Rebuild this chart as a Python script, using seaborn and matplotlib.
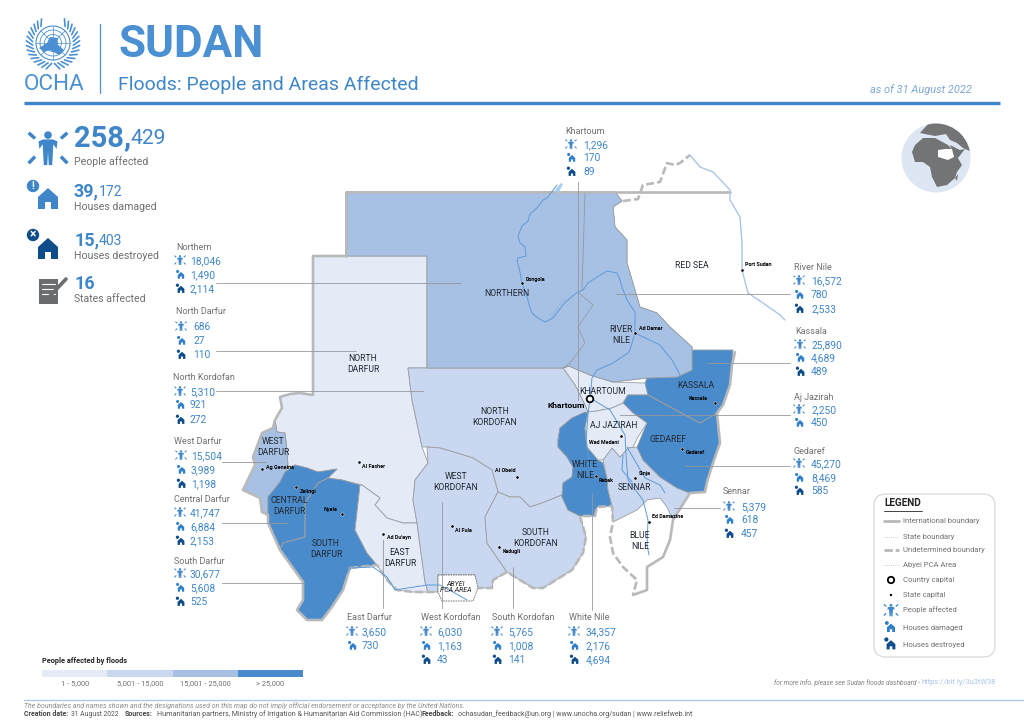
import numpy as np
import pandas as pd
import seaborn as sns
import matplotlib
matplotlib.use("Agg")
import matplotlib.pyplot as plt
from matplotlib.colors import ListedColormap
from matplotlib.patches import Circle, Polygon, Rectangle, FancyBboxPatch

# callout data
states = ["Khartoum", "Northern", "North Darfur", "North Kordofan", "West Darfur",
          "Central Darfur", "South Darfur", "East Darfur", "West Kordofan",
          "South Kordofan", "White Nile", "Sennar", "Gedaref", "Aj Jazirah",
          "Kassala", "River Nile"]
people = [1296, 18046, 686, 5310, 15504, 41747, 30677, 3650, 6030, 5765, 34357, 5379, 45270, 2250, 25890, 16572]
damaged = [170, 1490, 27, 921, 3989, 6884, 5608, 730, 1163, 1008, 2176, 618, 8469, 450, 4689, 780]
destroyed = [89, 2114, 110, 272, 1198, 2153, 525, None, 43, 141, 4694, 457, 585, None, 489, 2533]

scale_labels = ["1 - 5,000", "5,001 - 15,000", "15,001 - 25,000", "> 25,000"]
scale_colors = ["#e4ebf7", "#c9d8f0", "#a7c1e5", "#4a8bcb"]
scale_bins = [5001, 15001, 25001]

# map outlines
northern = [(346,192),(615,192),(622,201),(613,207),(615,227),(627,240),(627,263),(640,307),(657,313),(670,327),(692,347),
            (692,370),(677,377),(647,378),(613,382),(590,375),(569,366),(563,368),(427,368),(427,256),(346,256)]
north_darfur = [(313,256),(427,256),(427,368),(408,368),(412,400),(422,447),(428,463),(415,480),(413,500),(417,523),(403,523),
                (387,518),(375,505),(380,498),(373,493),(362,485),(342,480),(328,478),(337,469),(318,472),(307,468),(295,465),
                (288,467),(287,450),(285,433),(277,432),(275,420),(282,408),(280,397),(290,394),(300,393),(313,395)]
north_kordofan = [(408,368),(563,368),(575,385),(585,405),(588,412),(572,418),(560,428),(558,440),(558,447),(567,457),(573,467),
                  (572,477),(563,483),(562,495),(542,503),(530,507),(520,497),(510,497),(498,492),(492,470),(473,458),(457,453),
                  (440,448),(427,447),(422,447),(412,400)]
west_darfur = [(275,420),(273,428),(262,433),(253,457),(255,465),(243,490),(260,498),(262,512),(268,515),(268,497),(280,482),
               (288,467),(287,450),(285,433),(277,432)]
central_darfur = [(285,472),(295,465),(307,468),(318,472),(337,469),(328,478),(318,483),(305,503),(305,537),(283,543),(280,550),
                  (268,523),(268,497),(280,482)]
south_darfur = [(328,478),(342,480),(360,485),(358,503),(355,530),(367,553),(377,565),(350,568),(343,590),(332,607),(322,620),
                (307,620),(297,610),(303,600),(303,582),(280,550),(283,543),(305,537),(305,503),(318,483)]
east_darfur = [(362,485),(373,493),(380,498),(375,505),(387,518),(403,523),(417,523),(425,582),(428,592),(413,592),(397,590),
               (387,580),(377,565),(367,553),(355,530),(358,503),(360,485)]
west_kordofan = [(427,447),(440,448),(457,453),(473,458),(492,470),(498,492),(485,517),(487,543),(507,572),(493,580),(492,588),
                 (475,588),(475,575),(438,575),(438,592),(428,592),(425,582),(417,523),(413,500),(415,480),(428,463)]
south_kordofan = [(498,492),(510,497),(520,497),(530,507),(542,503),(562,495),(562,497),(568,510),(580,516),(586,537),(583,553),
                  (572,570),(543,588),(533,588),(507,572),(487,543),(485,517)]
khartoum = [(563,368),(569,366),(590,375),(613,382),(645,383),(648,395),(628,395),(623,403),(612,408),(597,411),(588,412),(585,405),(575,385)]
aj_jazirah = [(588,412),(597,411),(612,408),(623,403),(633,413),(647,423),(638,437),(633,447),(628,448),(620,457),(612,448),
              (603,460),(598,460),(587,447),(585,428)]
white_nile = [(585,412),(590,413),(585,428),(587,447),(598,460),(603,463),(607,478),(608,490),(612,506),(597,507),(595,516),
              (580,516),(568,510),(562,497),(563,483),(572,477),(573,467),(567,457),(558,447),(558,440),(560,428),(572,418)]
sennar = [(603,460),(612,448),(620,457),(628,448),(637,447),(643,460),(660,477),(677,488),(690,493),(673,520),(667,507),(660,498),
          (647,500),(637,510),(613,522),(612,506),(608,490),(607,478)]
kassala = [(692,350),(733,350),(732,365),(730,385),(723,405),(717,413),(700,423),(648,395),(645,383),(647,378),(677,377),(692,370)]
gedaref = [(628,395),(648,395),(700,423),(717,413),(720,443),(713,463),(707,482),(705,492),(690,493),(677,488),(660,477),(643,460),
           (637,447),(647,423),(633,413),(623,403)]
red_sea = [(623,201),(638,199),(643,185),(660,182),(667,163),(675,165),(680,163),(690,155),(700,167),(713,172),(730,190),(730,200),
           (740,217),(742,243),(742,270),(748,293),(763,303),(780,315),(785,320),(778,333),(760,340),(750,347),(735,352),(692,350),
           (670,327),(657,313),(640,307),(627,263),(627,240),(615,227),(613,207)]
blue_nile = [(613,522),(637,510),(647,500),(660,498),(667,507),(673,520),(670,540),(663,557),(647,567),(647,590),(633,595),(637,580),
             (623,567),(613,553),(610,537)]
abyei = [(438,575),(475,575),(478,588),(473,601),(442,601),(438,592)]

state_shapes = {"Khartoum": khartoum, "Northern": northern, "North Darfur": north_darfur, "North Kordofan": north_kordofan,
                "West Darfur": west_darfur, "Central Darfur": central_darfur, "South Darfur": south_darfur,
                "East Darfur": east_darfur, "West Kordofan": west_kordofan, "South Kordofan": south_kordofan,
                "White Nile": white_nile, "Sennar": sennar, "Gedaref": gedaref, "Aj Jazirah": aj_jazirah,
                "Kassala": kassala, "River Nile": northern}

# outer boundaries
border_solid = [[(346,256),(346,192),(730,192)], [(346,256),(313,256),(313,395),(300,393),(290,394),(280,397),(282,408),(275,420),
                 (273,428),(262,433),(253,457),(255,465),(243,490),(260,498),(262,512),(268,515),(268,523),(280,550),(303,582),
                 (303,600),(297,610),(307,620),(322,620),(332,607),(343,590),(350,568)],
                [(735,352),(732,365),(730,385),(723,405),(717,413),(720,443),(713,463),(707,482),(705,492),(690,493),(673,520),
                 (670,540),(663,557),(647,567),(647,590),(633,595)]]
border_dashed = [[(623,201),(638,199),(643,185),(660,182),(667,163),(675,165),(680,163),(690,155)],
                 [(350,568),(377,565),(387,580),(397,590),(413,592),(428,592),(438,592)],
                 [(475,588),(492,588),(493,580),(507,572),(533,588),(543,588),(572,570),(583,553),(586,537),(580,516),(595,516),(597,507),(612,506),(613,522),
                  (610,537),(613,553),(623,567),(637,580),(633,595)]]
inner_lines = [[(578,292),(593,305),(578,327),(585,343),(570,363),(563,368)], [(648,395),(700,423)], [(328,478),(318,483),(305,503),(305,537),(283,543),(280,550)]]
coast = [(690,155),(700,167),(713,172),(730,190),(730,200),(740,217),(742,243),(742,270),(748,293),(763,303),(780,315),(785,320)]

# rivers
main_nile = [(557,185),(547,198),(543,200),(538,207),(530,214),(528,221),(522,226),(518,236),(520,243),(525,247),(526,256),(518,258),
             (517,261),(520,272),(522,283),(528,300),(530,308),(532,313),(538,318),(545,322),(553,318),(563,305),(570,298),(578,292),
             (583,290),(588,283),(597,277),(607,271),(617,273),(620,280),(622,287),(627,300),(635,312),(635,333),(630,350),(628,353),
             (613,363),(597,370),(592,378),(590,398)]
atbara = [(635,333),(660,345),(672,360),(680,375)]
blue_river = [(590,398),(610,410),(625,435),(626,455),(628,480),(643,500),(648,520),(647,545),(649,555)]
white_river = [(590,398),(588,415),(586,440),(590,465),(598,478)]
dinder = [(627,447),(645,478),(660,485),(665,493)]
rahad = [(623,455),(622,470),(632,482)]
arab_river = [(347,573),(350,568),(373,567),(387,577),(395,590),(427,585),(440,585),(453,592),(467,600)]
river_lines = [main_nile, atbara, blue_river, white_river, dinder, rahad, arab_river]

# leader lines from the callouts
leaders = [[(578,182),(578,400)], [(585,193),(582,290)], [(216,283),(461,283)], [(216,351),(356,351)], [(216,391),(423,391)],
           [(222,462),(266,462)], [(222,523),(287,523)], [(222,583),(303,583)], [(383,540),(383,608)], [(442,502),(442,608)],
           [(513,567),(513,608)], [(592,493),(592,610)], [(674,508),(720,508)], [(685,466),(790,466)], [(620,415),(790,415)],
           [(707,363),(790,363)], [(616,294),(790,294)]]

# callout placing: name x, name y, value x, icon x, three value rows
callouts = [(565,131,583,571,145,158,172), (176,248,190,180,261,275,289), (176,311,193,181,327,341,355),
            (173,378,190,180,392,405,420), (174,442,191,181,456,470,484), (174,500,190,180,513,527,541),
            (174,561,190,180,574,588,602), (347,618,362,352,632,646,None), (421,618,437,426,632,646,660),
            (492,618,508,497,632,646,660), (569,618,586,574,632,646,660), (723,492,741,729,507,520,534),
            (794,451,811,799,464,478,491), (794,397,811,799,410,423,None), (795,331,811,800,345,358,372),
            (794,268,811,799,281,295,309)]

capital_names = ["Dongola","Port Sudan","Ad Damar","Kassala","Gedaref","Wad Medani","Sinja","Rabak","Ed Damazine","Al Obeid",
                 "Kadugli","Al Fula","Ad Du'ayn","Al Fasher","Nyala","Zalingi","Ag Geneina"]
capital_x = [522,742,635,715,682,621,635,596,649,517,499,452,383,359,342,296,262]
capital_y = [283,270,333,403,449,436,478,476,522,477,547,526,534,462,514,487,469]
capital_lx = [526,745,639,689,686,589,639,599,652,495,503,455,387,362,324,300,266]
capital_ly = [279,265,328,398,452,442,474,481,517,471,552,531,538,467,509,492,467]

map_labels = [("NORTHERN",507,294),("NORTH\nDARFUR",363,364),("RED SEA",692,265),("RIVER\nNILE",621,335),("KHARTOUM",603,391),
              ("AJ JAZIRAH",614,426),("KASSALA",696,386),("GEDAREF",668,439),("WHITE\nNILE",585,470),("SENNAR",634,487),
              ("BLUE\nNILE",640,541),("NORTH\nKORDOFAN",495,417),("WEST\nKORDOFAN",456,482),("SOUTH\nKORDOFAN",536,538),
              ("WEST\nDARFUR",273,447),("CENTRAL\nDARFUR",289,506),("SOUTH\nDARFUR",326,549),("EAST\nDARFUR",400,558)]

# small globe
globe_land = [[(912,152),(915,145),(923,138),(935,138),(948,145),(955,153),(962,165),(957,172),(955,178),(947,185),(937,187),
               (932,177),(930,167),(923,162),(915,162)],
              [(920,133),(930,122),(950,122),(965,135),(972,152),(963,148),(957,143),(950,140),(946,134),(935,136),(925,134)],
              [(950,145),(960,150),(965,149),(958,158),(953,153)],
              [(955,178),(958,174),(957,181)]]
globe_sudan = [(938,150),(945,149),(952,149),(954,157),(948,160),(938,157)]

sns.set_theme(style="white")
plt.rcParams["font.family"] = ["Roboto", "DejaVu Sans"]

BLUE = "#4a90d2"
VAL = "#3f86c9"
DARK = "#0f4c8c"
GREY = "#6f7072"
LINE = "#b8b9bb"

fig = plt.figure(figsize=(10.24, 7.24), dpi=100)
ax = fig.add_axes([0, 0, 1, 1])
ax.set_xlim(0, 1024)
ax.set_ylim(724, 0)
ax.axis("off")


def px(v):
    return v * 0.72


def line(pts, color=LINE, lw=1.0, ls="-", z=3):
    xs = [p[0] for p in pts]
    ys = [p[1] for p in pts]
    sns.lineplot(x=xs, y=ys, sort=False, estimator=None, color=color, linewidth=lw, linestyle=ls, zorder=z, ax=ax, legend=False)


def person(x, y, s, color=VAL):
    # y is the middle of the figure, s the half height
    ax.add_patch(Circle((x, y - s*0.68), s*0.2, color=color, zorder=6, lw=0))
    ax.add_patch(Polygon([(x-s*.5,y-s*.35),(x-s*.25,y-s*.45),(x+s*.25,y-s*.45),(x+s*.5,y-s*.35),(x+s*.45,y+s*.05),
                          (x+s*.28,y-s*.2),(x+s*.22,y+s*.9),(x+s*.04,y+s*.9),(x,y+s*.2),(x-s*.04,y+s*.9),(x-s*.22,y+s*.9),
                          (x-s*.28,y-s*.2),(x-s*.45,y+s*.05)], color=color, zorder=6, lw=0))
    for dx, dy in [(-1, -1), (1, -1), (-1, 1), (1, 1)]:
        ax.plot([x+dx*s*.68, x+dx*s*1.02], [y+dy*s*.45-s*.05*(dy<0), y+dy*s*.8], color=color, lw=s*.13, zorder=6, solid_capstyle="butt")


def house(x, y, s, color, dot=True):
    # x,y is the middle of the house, s the half width
    ax.add_patch(Polygon([(x-s,y-s*.2),(x,y-s*1.1),(x+s,y-s*.2),(x+s,y+s),(x+s*.3,y+s),(x+s*.3,y+s*.3),(x-s*.3,y+s*.3),
                          (x-s*.3,y+s),(x-s,y+s)], color=color, zorder=6, lw=0))
    if dot:
        ax.add_patch(Circle((x-s*1.05, y-s*1.25), s*.48, color=color, zorder=6, lw=0))


def callout_icons(ix, rows):
    person(ix, rows[0] - 1, 5.5)
    house(ix + 1, rows[1] + .5, 3.2, "#2f7fc9")
    if rows[2] is not None:
        house(ix + 1, rows[2] + .5, 3.4, DARK)


# logo
for r, w in [(17, .8), (13, .6), (8.5, .6), (4.5, .6)]:
    ax.add_patch(Circle((53, 43), r, fill=False, ec=BLUE, lw=w, zorder=3))
for a in np.deg2rad(np.arange(0, 180, 45)):
    ax.plot([53-17*np.cos(a), 53+17*np.cos(a)], [43-17*np.sin(a), 43+17*np.sin(a)], color=BLUE, lw=.5, zorder=3)
ax.add_patch(Polygon([(39,48),(47,43),(50,37),(58,38),(57,44),(64,50),(59,55),(50,50),(44,52)], color=BLUE, lw=0, zorder=4))
for side in (-1, 1):
    for a in np.deg2rad(np.arange(-60, 85, 10)):
        cx, cy = 53+side*23.5*np.cos(a), 43+23.5*np.sin(a)
        ax.plot([cx-side*3.8*np.cos(a-.6), cx+side*3.8*np.cos(a-.6)], [cy-3.8*np.sin(a-.6), cy+3.8*np.sin(a-.6)], color=BLUE, lw=1.2, zorder=3, solid_capstyle="round")
ax.text(54, 85, "OCHA", fontsize=px(22.5), color=BLUE, ha="center", va="center")
ax.plot([100, 100], [24, 93], color=BLUE, lw=.9)
ax.plot([24, 1000], [103, 103], color=VAL, lw=2.4, solid_capstyle="butt")

# titles
ax.text(118, 45, "SUDAN", fontsize=px(44), color=BLUE, fontweight="bold", va="center", ha="left")
ax.text(118, 85, "Floods: People and Areas Affected", fontsize=px(19.5), color=VAL, va="center", ha="left")
ax.text(972, 90, "as of 31 August 2022", fontsize=px(11), color="#7ea8d8", style="italic", va="center", ha="right")

# key figures
kpi = [("258,", "429", "People affected", 138, 162, 74, 130, 29, 21),
       ("39,", "172", "Houses damaged", 191, 207, 74, 99, 18, 14),
       ("15,", "403", "Houses destroyed", 240, 256, 74, 99, 18, 14),
       ("16", "", "States affected", 284, 299, 74, 99, 18, 14)]
for big, small, cap, y1, y2, x1, x2, s1, s2 in kpi:
    ax.text(x1, y1, big, fontsize=px(s1), color=VAL, fontweight="bold", va="center")
    if small:
        ax.text(x2, y1 + 1, small, fontsize=px(s2), color=VAL, va="center")
    ax.text(x1, y2, cap, fontsize=px(10.5), color=GREY, va="center")
person(48, 148, 19)
house(48, 199, 10, "#3f86c9", dot=False)
house(48, 249, 10, DARK, dot=False)
ax.add_patch(Circle((33, 186), 6.2, color="#3f86c9", lw=0, zorder=6))
ax.add_patch(Circle((33, 235), 6.2, color=DARK, lw=0, zorder=6))
ax.text(33, 186, "!", fontsize=px(10), color="white", ha="center", va="center", fontweight="bold", zorder=7)
ax.text(33, 235, "×", fontsize=px(12), color="white", ha="center", va="center", fontweight="bold", zorder=7)
ax.add_patch(Rectangle((39, 279), 19, 25, color="#6b6c6e", lw=0))
for yy in (284, 289, 294):
    ax.plot([42, 55], [yy, yy], color="white", lw=.8)
ax.plot([50, 66], [296, 279], color="#6b6c6e", lw=2.6, solid_capstyle="round", zorder=5)

# map
bins = np.digitize(people, scale_bins)
ax.fill(*zip(*red_sea), color="white", lw=0, zorder=1)
ax.fill(*zip(*blue_nile), color="white", lw=0, zorder=1)
for st, shape, b in zip(states, [state_shapes[s] for s in states], bins):
    ax.fill(*zip(*shape), facecolor=scale_colors[b], edgecolor="#9a9da1", lw=.6, zorder=2)
ax.add_patch(Polygon(abyei, facecolor="white", edgecolor="#666666", lw=.6, ls=(0, (2, 1)), zorder=4))
for pts in inner_lines:
    line(pts, color="#9a9da1", lw=.6, z=3)
for pts in border_solid:
    line(pts, lw=1.9, z=3)
for pts in border_dashed:
    line(pts, lw=1.9, ls=(0, (3, 1.2)), z=3)
line(coast, color="#a9c5e8", lw=1.0)
for pts in river_lines:
    line(pts, color="#5d9ad8", lw=.7, z=4)
ax.add_patch(Polygon([(555,190),(561,183),(563,184),(558,194)], color="#a9d0f0", lw=0, zorder=5))
for pts in leaders:
    line(pts, color="#96979a", lw=.6, z=5)
ax.text(560, 307, "River Nile", fontsize=px(5.5), color="#8fb4de", rotation=48, ha="center", va="center", zorder=5)

for txt, x, y in map_labels:
    ax.text(x, y, txt, fontsize=px(8.6), color="#222831", ha="center", va="center", linespacing=1.15, zorder=6)
ax.text(456, 587, "ABYEI\nPCA AREA", fontsize=px(7), color="#222222", style="italic", ha="center", va="center", linespacing=1.2, zorder=6)

caps = pd.DataFrame({"x": capital_x, "y": capital_y})
sns.scatterplot(data=caps, x="x", y="y", s=5, color="black", edgecolor="white", linewidth=.3, zorder=7, ax=ax, legend=False)
for n, lx, ly in zip(capital_names, capital_lx, capital_ly):
    ax.text(lx, ly, n, fontsize=px(5.4), color="black", fontweight="bold", va="center", zorder=7)
ax.add_patch(Circle((590, 399), 3.3, fc="white", ec="black", lw=1.3, zorder=8))
ax.text(547, 405, "Khartoum", fontsize=px(8.5), color="black", fontweight="bold", va="center", zorder=8)

# callouts
for st, pos, a, b, c in zip(states, callouts, people, damaged, destroyed):
    nx, ny, vx, ix, r1, r2, r3 = pos
    ax.text(nx, ny, st, fontsize=px(9), color=GREY, va="center", zorder=7)
    ax.text(vx, r1, f"{a:,}", fontsize=px(10.3), color=VAL, va="center", zorder=7)
    ax.text(vx, r2, f"{b:,}", fontsize=px(10.3), color=VAL, va="center", zorder=7)
    if c is not None:
        ax.text(vx, r3, f"{c:,}", fontsize=px(10.3), color=VAL, va="center", zorder=7)
    callout_icons(ix, (r1, r2, r3))

# globe
disc = Circle((936, 158), 34.5, color="#dde7f4", lw=0, zorder=2)
ax.add_patch(disc)
for land in globe_land:
    patch = Polygon(land, color="#737476", lw=0, zorder=3)
    ax.add_patch(patch)
    patch.set_clip_path(disc)
ax.add_patch(Polygon(globe_sudan, color="white", lw=0, zorder=4))

# legend box
legend_box = FancyBboxPatch((874, 494), 121, 163, boxstyle="round,pad=0,rounding_size=12", fc="white", ec="#d4d5d7", lw=.8, zorder=1)
ax.add_patch(legend_box)
ax.text(884, 503, "LEGEND", fontsize=px(10), color="#222222", fontweight="bold", va="center")
ax.plot([884, 922], [511, 511], color="#444444", lw=.7)
legend_texts = ["International boundary", "State boundary", "Undetermined boundary", "Abyei PCA Area", "Country capital", "State capital",
                "People affected", "Houses damaged", "Houses destroyed"]
legend_rows = [521, 537, 550, 565, 580, 595, 610, 628, 645]
for t, y in zip(legend_texts, legend_rows):
    ax.text(903, y, t, fontsize=px(7.7), color=GREY, va="center")
ax.plot([884, 899], [521, 521], color=LINE, lw=2.0)
ax.plot([884, 899], [537, 537], color=LINE, lw=.6, ls=":")
ax.plot([884, 899], [550, 550], color=LINE, lw=2.0, ls=(0, (3, 1)))
ax.plot([884, 899], [565, 565], color=LINE, lw=.6, ls=":")
ax.add_patch(Circle((891, 580), 3.2, fc="white", ec="black", lw=1.3))
ax.add_patch(Circle((891, 595), 1.2, color="black", lw=0))
person(891, 610, 7)
house(891, 628, 4, "#2f7fc9")
house(891, 645, 4.4, DARK)

# colour scale
cax = fig.add_axes([42/1024, 1-677/724, 261/1024, 7/724])
sns.heatmap(np.array([[0, 1, 2, 3]]), cmap=ListedColormap(scale_colors), cbar=False, xticklabels=False, yticklabels=False, ax=cax)
ax.text(42, 661, "People affected by floods", fontsize=px(7.4), color="#222222", fontweight="bold", va="center")
for t, x in zip(scale_labels, [75, 140, 205, 270]):
    ax.text(x, 684, t, fontsize=px(7.5), color=GREY, ha="center", va="center")

# footer
ax.plot([24, 1024], [700, 700], color="#a9c5e8", lw=.9)
ax.text(24, 705.5, "The boundaries and names shown and the designations used on this map do not imply official endorsement or acceptance by the United Nations.",
        fontsize=px(7.0), color="#8a8b8d", style="italic", va="center")
ax.text(24, 714.5, "Creation date:", fontsize=px(7.0), color="#444444", fontweight="bold", va="center")
ax.text(71, 714.5, "31 August 2022", fontsize=px(6.8), color="#555555", va="center")
ax.text(125, 714.5, "Sources:", fontsize=px(7.0), color="#444444", fontweight="bold", va="center")
ax.text(157, 714.5, "Humanitarian partners, Ministry of Irrigation & Humanitarian Aid Commission (HAC)", fontsize=px(7.1), color="#555555", va="center")
ax.text(422, 714.5, "Feedback:", fontsize=px(7.0), color="#444444", fontweight="bold", va="center")
ax.text(458, 714.5, "ochasudan_feedback@un.org | www.unocha.org/sudan | www.reliefweb.int", fontsize=px(7.0), color="#555555", va="center")
ax.text(920, 683, "for more info. please see Sudan floods dashboard -", fontsize=px(6.6), color="#808183", style="italic", ha="right", va="center")
ax.text(921, 683, "https://bit.ly/3u3tW38", fontsize=px(7.5), color="#a9c5e8", va="center")

ax.set_xlim(0, 1024)
ax.set_ylim(724, 0)
ax.axis("off")
fig.savefig("out.png", dpi=100)
